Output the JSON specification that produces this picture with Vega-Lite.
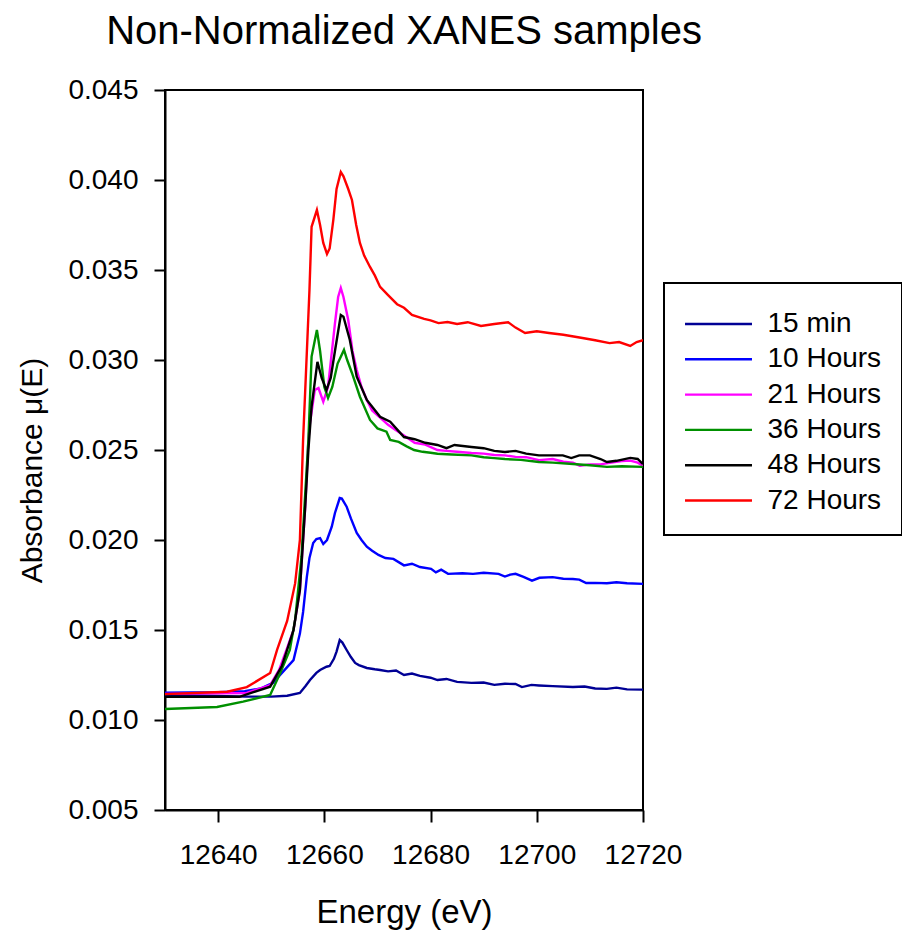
{
"$schema": "https://vega.github.io/schema/vega-lite/v6.json",
"autosize": {"type": "none"},
"padding": {"left": 165, "top": 90, "right": 259, "bottom": 120},
"width": 478,
"height": 720,
"background": "white",
"config": {"font": "Liberation Sans", "view": {"stroke": "black", "strokeWidth": 2}},
"title": {"text": "Non-Normalized XANES samples", "fontSize": 40, "fontWeight": "normal", "color": "black", "anchor": "middle", "offset": 24},
"datasets": {
"d": [
{"s":"15 min","e":12630,"a":0.01140},{"s":"15 min","e":12640,"a":0.01134},{"s":"15 min","e":12645,"a":0.01130},{"s":"15 min","e":12650,"a":0.01130},{"s":"15 min","e":12653,"a":0.01135},{"s":"15 min","e":12655.4,"a":0.01150},{"s":"15 min","e":12656.5,"a":0.01190},{"s":"15 min","e":12657.3,"a":0.01222},{"s":"15 min","e":12658.5,"a":0.01262},{"s":"15 min","e":12659.2,"a":0.01278},{"s":"15 min","e":12660.4,"a":0.01296},{"s":"15 min","e":12661.0,"a":0.01300},{"s":"15 min","e":12661.8,"a":0.01340},{"s":"15 min","e":12662.3,"a":0.01380},{"s":"15 min","e":12662.9,"a":0.01444},{"s":"15 min","e":12663.4,"a":0.01430},{"s":"15 min","e":12664.2,"a":0.01389},{"s":"15 min","e":12665.0,"a":0.01350},{"s":"15 min","e":12665.8,"a":0.01317},{"s":"15 min","e":12666.5,"a":0.01305},{"s":"15 min","e":12668.0,"a":0.01289},{"s":"15 min","e":12669.5,"a":0.01282},{"s":"15 min","e":12670.5,"a":0.01278},{"s":"15 min","e":12672.0,"a":0.01270},{"s":"15 min","e":12673.5,"a":0.01275},{"s":"15 min","e":12675.0,"a":0.01250},{"s":"15 min","e":12676.5,"a":0.01258},{"s":"15 min","e":12678.0,"a":0.01245},{"s":"15 min","e":12680.0,"a":0.01235},{"s":"15 min","e":12681.3,"a":0.01222},{"s":"15 min","e":12683.0,"a":0.01228},{"s":"15 min","e":12685.0,"a":0.01212},{"s":"15 min","e":12687.7,"a":0.01206},{"s":"15 min","e":12690.0,"a":0.01208},{"s":"15 min","e":12692.0,"a":0.01195},{"s":"15 min","e":12694.0,"a":0.01201},{"s":"15 min","e":12696.0,"a":0.01200},{"s":"15 min","e":12697.2,"a":0.01183},{"s":"15 min","e":12699.0,"a":0.01195},{"s":"15 min","e":12700.4,"a":0.01192},{"s":"15 min","e":12703.0,"a":0.01188},{"s":"15 min","e":12706.8,"a":0.01183},{"s":"15 min","e":12709.0,"a":0.01186},{"s":"15 min","e":12711.0,"a":0.01175},{"s":"15 min","e":12713.2,"a":0.01173},{"s":"15 min","e":12715.0,"a":0.01180},{"s":"15 min","e":12717.0,"a":0.01170},{"s":"15 min","e":12720,"a":0.01169},

{"s":"10 Hours","e":12630,"a":0.01152},{"s":"10 Hours","e":12640,"a":0.01155},{"s":"10 Hours","e":12645,"a":0.01160},{"s":"10 Hours","e":12648,"a":0.01175},{"s":"10 Hours","e":12650.3,"a":0.01206},{"s":"10 Hours","e":12654.2,"a":0.01333},{"s":"10 Hours","e":12655.4,"a":0.01480},{"s":"10 Hours","e":12656.0,"a":0.01600},{"s":"10 Hours","e":12656.7,"a":0.01794},{"s":"10 Hours","e":12657.2,"a":0.01900},{"s":"10 Hours","e":12657.9,"a":0.01983},{"s":"10 Hours","e":12658.5,"a":0.02005},{"s":"10 Hours","e":12659.2,"a":0.02010},{"s":"10 Hours","e":12659.8,"a":0.01978},{"s":"10 Hours","e":12660.5,"a":0.02000},{"s":"10 Hours","e":12661.4,"a":0.02074},{"s":"10 Hours","e":12662.0,"a":0.02150},{"s":"10 Hours","e":12662.9,"a":0.02233},{"s":"10 Hours","e":12663.3,"a":0.02230},{"s":"10 Hours","e":12664.2,"a":0.02185},{"s":"10 Hours","e":12665.0,"a":0.02120},{"s":"10 Hours","e":12666.1,"a":0.02039},{"s":"10 Hours","e":12667.0,"a":0.02000},{"s":"10 Hours","e":12668.0,"a":0.01963},{"s":"10 Hours","e":12669.0,"a":0.01940},{"s":"10 Hours","e":12670.2,"a":0.01917},{"s":"10 Hours","e":12671.5,"a":0.01900},{"s":"10 Hours","e":12673.0,"a":0.01895},{"s":"10 Hours","e":12675.0,"a":0.01859},{"s":"10 Hours","e":12676.5,"a":0.01868},{"s":"10 Hours","e":12678.0,"a":0.01850},{"s":"10 Hours","e":12680.1,"a":0.01840},{"s":"10 Hours","e":12681.0,"a":0.01820},{"s":"10 Hours","e":12682.0,"a":0.01835},{"s":"10 Hours","e":12683.3,"a":0.01812},{"s":"10 Hours","e":12686.0,"a":0.01815},{"s":"10 Hours","e":12688.0,"a":0.01812},{"s":"10 Hours","e":12690.0,"a":0.01818},{"s":"10 Hours","e":12692.8,"a":0.01812},{"s":"10 Hours","e":12694.0,"a":0.01797},{"s":"10 Hours","e":12695.0,"a":0.01808},{"s":"10 Hours","e":12696.0,"a":0.01812},{"s":"10 Hours","e":12697.5,"a":0.01795},{"s":"10 Hours","e":12699.1,"a":0.01774},{"s":"10 Hours","e":12700.5,"a":0.01790},{"s":"10 Hours","e":12703.0,"a":0.01794},{"s":"10 Hours","e":12705.0,"a":0.01785},{"s":"10 Hours","e":12706.8,"a":0.01783},{"s":"10 Hours","e":12708.0,"a":0.01780},{"s":"10 Hours","e":12709.3,"a":0.01761},{"s":"10 Hours","e":12711.0,"a":0.01762},{"s":"10 Hours","e":12713.2,"a":0.01760},{"s":"10 Hours","e":12715.0,"a":0.01765},{"s":"10 Hours","e":12717.0,"a":0.01760},{"s":"10 Hours","e":12720,"a":0.01756},

{"s":"21 Hours","e":12630,"a":0.01145},{"s":"21 Hours","e":12640,"a":0.01148},{"s":"21 Hours","e":12645.4,"a":0.01150},{"s":"21 Hours","e":12649.8,"a":0.01194},{"s":"21 Hours","e":12651.5,"a":0.01280},{"s":"21 Hours","e":12653.0,"a":0.01400},{"s":"21 Hours","e":12654.2,"a":0.01500},{"s":"21 Hours","e":12655.4,"a":0.01722},{"s":"21 Hours","e":12656.4,"a":0.02185},{"s":"21 Hours","e":12657.0,"a":0.02556},{"s":"21 Hours","e":12657.3,"a":0.02650},{"s":"21 Hours","e":12658.2,"a":0.02833},{"s":"21 Hours","e":12658.9,"a":0.02844},{"s":"21 Hours","e":12659.8,"a":0.02768},{"s":"21 Hours","e":12660.7,"a":0.02852},{"s":"21 Hours","e":12662.0,"a":0.03204},{"s":"21 Hours","e":12662.6,"a":0.03350},{"s":"21 Hours","e":12663.1,"a":0.03400},{"s":"21 Hours","e":12663.6,"a":0.03350},{"s":"21 Hours","e":12664.5,"a":0.03222},{"s":"21 Hours","e":12665.3,"a":0.03050},{"s":"21 Hours","e":12666.1,"a":0.02944},{"s":"21 Hours","e":12667.0,"a":0.02850},{"s":"21 Hours","e":12668.0,"a":0.02778},{"s":"21 Hours","e":12669.0,"a":0.02720},{"s":"21 Hours","e":12670.5,"a":0.02680},{"s":"21 Hours","e":12672.0,"a":0.02640},{"s":"21 Hours","e":12673.5,"a":0.02610},{"s":"21 Hours","e":12675.0,"a":0.02580},{"s":"21 Hours","e":12677.0,"a":0.02540},{"s":"21 Hours","e":12679.0,"a":0.02530},{"s":"21 Hours","e":12681.3,"a":0.02500},{"s":"21 Hours","e":12683.0,"a":0.02495},{"s":"21 Hours","e":12685.0,"a":0.02490},{"s":"21 Hours","e":12687.7,"a":0.02483},{"s":"21 Hours","e":12690.0,"a":0.02480},{"s":"21 Hours","e":12692.0,"a":0.02472},{"s":"21 Hours","e":12694.0,"a":0.02470},{"s":"21 Hours","e":12696.0,"a":0.02462},{"s":"21 Hours","e":12698.0,"a":0.02460},{"s":"21 Hours","e":12700.4,"a":0.02444},{"s":"21 Hours","e":12703.0,"a":0.02450},{"s":"21 Hours","e":12705.0,"a":0.02435},{"s":"21 Hours","e":12706.8,"a":0.02430},{"s":"21 Hours","e":12708.1,"a":0.02413},{"s":"21 Hours","e":12710.0,"a":0.02420},{"s":"21 Hours","e":12712.0,"a":0.02420},{"s":"21 Hours","e":12714.0,"a":0.02430},{"s":"21 Hours","e":12716.0,"a":0.02438},{"s":"21 Hours","e":12717.6,"a":0.02441},{"s":"21 Hours","e":12719.0,"a":0.02430},{"s":"21 Hours","e":12720,"a":0.02413},

{"s":"36 Hours","e":12630,"a":0.01061},{"s":"36 Hours","e":12639.8,"a":0.01072},{"s":"36 Hours","e":12644.7,"a":0.01102},{"s":"36 Hours","e":12649.8,"a":0.01139},{"s":"36 Hours","e":12651.7,"a":0.01261},{"s":"36 Hours","e":12653.5,"a":0.01389},{"s":"36 Hours","e":12654.5,"a":0.01556},{"s":"36 Hours","e":12655.7,"a":0.01907},{"s":"36 Hours","e":12657.0,"a":0.02556},{"s":"36 Hours","e":12657.6,"a":0.03019},{"s":"36 Hours","e":12658.6,"a":0.03167},{"s":"36 Hours","e":12659.2,"a":0.03050},{"s":"36 Hours","e":12660.0,"a":0.02850},{"s":"36 Hours","e":12660.7,"a":0.02789},{"s":"36 Hours","e":12661.5,"a":0.02850},{"s":"36 Hours","e":12662.5,"a":0.02980},{"s":"36 Hours","e":12663.7,"a":0.03056},{"s":"36 Hours","e":12664.3,"a":0.03000},{"s":"36 Hours","e":12665.2,"a":0.02928},{"s":"36 Hours","e":12666.7,"a":0.02796},{"s":"36 Hours","e":12668.6,"a":0.02667},{"s":"36 Hours","e":12670.0,"a":0.02620},{"s":"36 Hours","e":12671.7,"a":0.02602},{"s":"36 Hours","e":12672.4,"a":0.02556},{"s":"36 Hours","e":12674.0,"a":0.02545},{"s":"36 Hours","e":12675.5,"a":0.02520},{"s":"36 Hours","e":12676.9,"a":0.02500},{"s":"36 Hours","e":12678.5,"a":0.02490},{"s":"36 Hours","e":12680.0,"a":0.02485},{"s":"36 Hours","e":12681.3,"a":0.02479},{"s":"36 Hours","e":12684.0,"a":0.02475},{"s":"36 Hours","e":12687.7,"a":0.02470},{"s":"36 Hours","e":12690.0,"a":0.02460},{"s":"36 Hours","e":12692.0,"a":0.02455},{"s":"36 Hours","e":12694.0,"a":0.02450},{"s":"36 Hours","e":12697.0,"a":0.02445},{"s":"36 Hours","e":12700.4,"a":0.02433},{"s":"36 Hours","e":12703.0,"a":0.02430},{"s":"36 Hours","e":12706.8,"a":0.02422},{"s":"36 Hours","e":12710.0,"a":0.02415},{"s":"36 Hours","e":12713.2,"a":0.02406},{"s":"36 Hours","e":12716.0,"a":0.02410},{"s":"36 Hours","e":12720,"a":0.02406},

{"s":"48 Hours","e":12630,"a":0.01129},{"s":"48 Hours","e":12644,"a":0.01129},{"s":"48 Hours","e":12649.8,"a":0.01185},{"s":"48 Hours","e":12652.0,"a":0.01300},{"s":"48 Hours","e":12654.2,"a":0.01500},{"s":"48 Hours","e":12655.4,"a":0.01722},{"s":"48 Hours","e":12656.4,"a":0.02185},{"s":"48 Hours","e":12657.0,"a":0.02500},{"s":"48 Hours","e":12657.6,"a":0.02741},{"s":"48 Hours","e":12658.7,"a":0.02990},{"s":"48 Hours","e":12659.5,"a":0.02900},{"s":"48 Hours","e":12660.4,"a":0.02833},{"s":"48 Hours","e":12661.2,"a":0.02900},{"s":"48 Hours","e":12662.0,"a":0.03050},{"s":"48 Hours","e":12663.1,"a":0.03250},{"s":"48 Hours","e":12663.6,"a":0.03240},{"s":"48 Hours","e":12664.8,"a":0.03111},{"s":"48 Hours","e":12666.1,"a":0.02907},{"s":"48 Hours","e":12668.0,"a":0.02778},{"s":"48 Hours","e":12670.5,"a":0.02685},{"s":"48 Hours","e":12672.4,"a":0.02657},{"s":"48 Hours","e":12675.0,"a":0.02572},{"s":"48 Hours","e":12677.0,"a":0.02560},{"s":"48 Hours","e":12679.0,"a":0.02540},{"s":"48 Hours","e":12681.3,"a":0.02528},{"s":"48 Hours","e":12683.0,"a":0.02510},{"s":"48 Hours","e":12684.5,"a":0.02528},{"s":"48 Hours","e":12687.7,"a":0.02517},{"s":"48 Hours","e":12690.0,"a":0.02510},{"s":"48 Hours","e":12692.0,"a":0.02495},{"s":"48 Hours","e":12694.0,"a":0.02489},{"s":"48 Hours","e":12696.0,"a":0.02495},{"s":"48 Hours","e":12698.0,"a":0.02480},{"s":"48 Hours","e":12700.4,"a":0.02470},{"s":"48 Hours","e":12703.0,"a":0.02470},{"s":"48 Hours","e":12704.9,"a":0.02470},{"s":"48 Hours","e":12706.5,"a":0.02455},{"s":"48 Hours","e":12708.0,"a":0.02470},{"s":"48 Hours","e":12710.0,"a":0.02470},{"s":"48 Hours","e":12712.0,"a":0.02450},{"s":"48 Hours","e":12713.2,"a":0.02433},{"s":"48 Hours","e":12715.0,"a":0.02440},{"s":"48 Hours","e":12717.6,"a":0.02456},{"s":"48 Hours","e":12719.0,"a":0.02450},{"s":"48 Hours","e":12720,"a":0.02422},

{"s":"72 Hours","e":12630,"a":0.01144},{"s":"72 Hours","e":12641.7,"a":0.01157},{"s":"72 Hours","e":12645.4,"a":0.01183},{"s":"72 Hours","e":12649.8,"a":0.01261},{"s":"72 Hours","e":12651.1,"a":0.01389},{"s":"72 Hours","e":12653.0,"a":0.01550},{"s":"72 Hours","e":12654.5,"a":0.01759},{"s":"72 Hours","e":12655.4,"a":0.02000},{"s":"72 Hours","e":12655.7,"a":0.02278},{"s":"72 Hours","e":12656.0,"a":0.02556},{"s":"72 Hours","e":12656.5,"a":0.02900},{"s":"72 Hours","e":12657.2,"a":0.03389},{"s":"72 Hours","e":12657.6,"a":0.03740},{"s":"72 Hours","e":12658.6,"a":0.03833},{"s":"72 Hours","e":12659.2,"a":0.03750},{"s":"72 Hours","e":12659.8,"a":0.03650},{"s":"72 Hours","e":12660.5,"a":0.03589},{"s":"72 Hours","e":12661.0,"a":0.03620},{"s":"72 Hours","e":12661.7,"a":0.03780},{"s":"72 Hours","e":12662.3,"a":0.03950},{"s":"72 Hours","e":12663.1,"a":0.04044},{"s":"72 Hours","e":12663.6,"a":0.04020},{"s":"72 Hours","e":12664.5,"a":0.03950},{"s":"72 Hours","e":12665.2,"a":0.03889},{"s":"72 Hours","e":12666.0,"a":0.03750},{"s":"72 Hours","e":12666.7,"a":0.03650},{"s":"72 Hours","e":12667.5,"a":0.03580},{"s":"72 Hours","e":12668.6,"a":0.03517},{"s":"72 Hours","e":12669.5,"a":0.03470},{"s":"72 Hours","e":12670.5,"a":0.03406},{"s":"72 Hours","e":12672.0,"a":0.03360},{"s":"72 Hours","e":12673.7,"a":0.03310},{"s":"72 Hours","e":12675.0,"a":0.03290},{"s":"72 Hours","e":12676.5,"a":0.03250},{"s":"72 Hours","e":12678.8,"a":0.03228},{"s":"72 Hours","e":12680.0,"a":0.03220},{"s":"72 Hours","e":12681.5,"a":0.03205},{"s":"72 Hours","e":12683.2,"a":0.03211},{"s":"72 Hours","e":12685.0,"a":0.03200},{"s":"72 Hours","e":12687.0,"a":0.03210},{"s":"72 Hours","e":12689.5,"a":0.03189},{"s":"72 Hours","e":12692.0,"a":0.03200},{"s":"72 Hours","e":12694.6,"a":0.03210},{"s":"72 Hours","e":12696.0,"a":0.03180},{"s":"72 Hours","e":12697.8,"a":0.03150},{"s":"72 Hours","e":12700.0,"a":0.03160},{"s":"72 Hours","e":12702.3,"a":0.03150},{"s":"72 Hours","e":12705.0,"a":0.03140},{"s":"72 Hours","e":12708.6,"a":0.03122},{"s":"72 Hours","e":12711.0,"a":0.03110},{"s":"72 Hours","e":12713.7,"a":0.03094},{"s":"72 Hours","e":12715.5,"a":0.03100},{"s":"72 Hours","e":12717.6,"a":0.03078},{"s":"72 Hours","e":12718.8,"a":0.03100},{"s":"72 Hours","e":12720,"a":0.03110}
]
},
"data": {"name": "d"},
"mark": {"type": "line", "strokeWidth": 2.4, "clip": true},
"encoding": {
"x": {"field": "e", "type": "quantitative",
 "scale": {"domain": [12630, 12720], "nice": false, "zero": false},
 "axis": {"title": "Energy (eV)", "values": [12640, 12660, 12680, 12700, 12720], "format": "d", "grid": false,
  "domainColor": "black", "domainWidth": 2, "tickColor": "black", "tickWidth": 2, "tickSize": 12,
  "labelFontSize": 28, "labelColor": "black", "labelPadding": 19, "labelFlush": false,
  "titleFontSize": 33, "titleFontWeight": "normal", "titleColor": "black", "titlePadding": 27}},
"y": {"field": "a", "type": "quantitative",
 "scale": {"domain": [0.005, 0.045], "nice": false, "zero": false},
 "axis": {"title": "Absorbance μ(E)", "values": [0.005, 0.01, 0.015, 0.02, 0.025, 0.03, 0.035, 0.04, 0.045], "format": ".3f", "grid": false,
  "domainColor": "black", "domainWidth": 2, "tickColor": "black", "tickWidth": 2, "tickSize": 11,
  "labelFontSize": 28, "labelColor": "black", "labelPadding": 16, "labelFlush": false,
  "titleFontSize": 30, "titleFontWeight": "normal", "titleColor": "black", "titlePadding": 20, "titleY": 380}},
"color": {"field": "s", "type": "nominal",
 "scale": {"domain": ["15 min", "10 Hours", "21 Hours", "36 Hours", "48 Hours", "72 Hours"],
  "range": ["#000095", "#0000FF", "#FF00FF", "#009000", "#000000", "#FF0000"]},
 "legend": {"title": null, "orient": "none", "legendX": 499, "legendY": 193,
  "symbolType": "M-1.7,0H1.7", "symbolSize": 1552, "symbolStrokeWidth": 2.4, "symbolOffset": 13.5,
  "labelFontSize": 28, "labelColor": "black", "labelOffset": 28, "labelLimit": 400,
  "rowPadding": 0.3,
  "strokeColor": "black", "fillColor": "white", "padding": 20,
  "encode": {"legend": {"update": {"strokeWidth": {"value": 2}}}}}}
}
}
